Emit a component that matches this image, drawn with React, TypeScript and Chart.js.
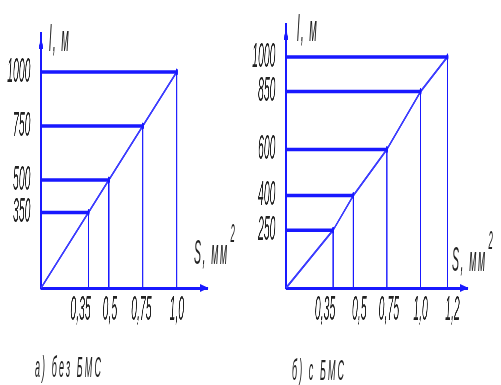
import React, { useEffect, useRef } from "react";
import { Chart, registerables } from "chart.js";

Chart.register(...registerables);

// ---- data ----
const sectionsA = [0.35, 0.5, 0.75, 1.0];
const lengthsA = [350, 500, 750, 1000];
const xLabelsA = ["0,35", "0,5", "0,75", "1,0"];

const sectionsB = [0.35, 0.5, 0.75, 1.0, 1.2];
const lengthsB = [250, 400, 600, 850, 1000];
const xLabelsB = ["0,35", "0,5", "0,75", "1,0", "1,2"];

const captionA = "а) без БМС";
const captionB = "б) с БМС";
const yTitle = "l, м";
const xTitle = "S, мм";

// ---- look ----
const S = 0.3; // horizontal squash of the whole drawing
const W = 501 / S;
const H = 385;
const BLUE = "rgb(25,25,255)";
const TEXT = "#222";
const FONT = "'Liberation Sans', 'DejaVu Sans', sans-serif";
const XH = 50;

type Cfg = {
  xs: number[];
  ys: number[];
  xLabels: string[];
  labelShift: number[];
  left: number;
  right: number;
  top: number;
  bottom: number;
  xMax: number;
  yMax: number;
};

const panelA: Cfg = {
  xs: sectionsA, ys: lengthsA, xLabels: xLabelsA,
  labelShift: [-8, 1, -1.5, 0],
  left: 41, right: 208, top: 35, bottom: 288, xMax: 1.23, yMax: 1171,
};
const panelB: Cfg = {
  xs: sectionsB, ys: lengthsB, xLabels: xLabelsB,
  labelShift: [-8, 6, 2, 0, 5],
  left: 286, right: 468, top: 26, bottom: 288, xMax: 1.353, yMax: 1134,
};

const arrowPlugin = {
  id: "arrows",
  beforeDraw(chart: any, _args: any, opts: any) {
    const sc = chart.scales.x;
    const shifts: number[] = (opts && opts.shifts) || [];
    const items = sc.getLabelItems(chart.chartArea);
    if (!sc.$shifted) {
      items.forEach((it: any, i: number) => {
        if (it.options && it.options.translation) it.options.translation[0] += (shifts[i] || 0) / S;
      });
      sc.$shifted = true;
    }
  },
  afterDraw(chart: any) {
    const { ctx, chartArea: ca } = chart;
    ctx.save();
    ctx.fillStyle = BLUE;
    // x arrow
    ctx.beginPath();
    ctx.moveTo(ca.right + 2, ca.bottom);
    ctx.lineTo(ca.right - 8 / S, ca.bottom - 4);
    ctx.lineTo(ca.right - 8 / S, ca.bottom + 4);
    ctx.closePath();
    ctx.fill();
    // y arrow
    ctx.beginPath();
    ctx.moveTo(ca.left, ca.top - 2);
    ctx.lineTo(ca.left - 2.2 / S, ca.top + 14);
    ctx.lineTo(ca.left + 2.2 / S, ca.top + 14);
    ctx.closePath();
    ctx.fill();
    ctx.restore();
  },
};

function Panel({ cfg }: { cfg: Cfg }) {
  const ref = useRef<HTMLCanvasElement | null>(null);
  useEffect(() => {
    if (!ref.current) return;
    const datasets: any[] = [];
    cfg.xs.forEach((x, i) => {
      datasets.push({
        data: [{ x: 0, y: cfg.ys[i] }, { x, y: cfg.ys[i] }],
        borderColor: BLUE, borderWidth: 3.5, pointRadius: 0,
      });
      datasets.push({
        data: [{ x, y: 0 }, { x, y: cfg.ys[i] }],
        borderColor: BLUE, borderWidth: 4, pointRadius: 0,
      });
    });
    datasets.push({
      data: [{ x: 0, y: 0 }, ...cfg.xs.map((x, i) => ({ x, y: cfg.ys[i] }))],
      borderColor: "rgb(60,60,255)",
      borderWidth: 3,
      pointRadius: [0, ...cfg.xs.map(() => 3.5)],
      pointBackgroundColor: BLUE,
      pointBorderWidth: 0,
    });
    const tickFont = { family: FONT, size: 35, style: "italic" as const, lineHeight: 1 };
    const chart = new Chart(ref.current, {
      type: "line",
      data: { datasets },
      options: {
        animation: false,
        responsive: false,
        devicePixelRatio: 1,
        layout: {
          padding: {
            left: 0,
            right: W - cfg.right / S,
            top: cfg.top,
            bottom: H - cfg.bottom - XH,
          },
        },
        plugins: {
          legend: { display: false },
          tooltip: { enabled: false },
          arrows: { shifts: cfg.labelShift },
        } as any,
        scales: {
          x: {
            type: "linear",
            min: 0,
            max: cfg.xMax,
            grid: { display: false },
            border: { display: true, color: BLUE, width: 3 },
            afterBuildTicks: (s: any) => {
              s.ticks = cfg.xs.map((v) => ({ value: v }));
            },
            afterFit: (s: any) => {
              s.height = XH;
              s.paddingLeft = 0;
              s.paddingRight = 0;
            },
            ticks: {
              autoSkip: false,
              maxRotation: 0,
              minRotation: 0,
              padding: -3,
              color: TEXT,
              font: tickFont,
              callback: (v: any) => cfg.xLabels[cfg.xs.indexOf(Number(v))] ?? "",
            },
          },
          y: {
            type: "linear",
            min: 0,
            max: cfg.yMax,
            grid: { display: false },
            border: { display: true, color: BLUE, width: 6 },
            afterBuildTicks: (s: any) => {
              s.ticks = cfg.ys.map((v) => ({ value: v }));
            },
            afterFit: (s: any) => {
              s.width = cfg.left / S;
              s.paddingTop = 0;
              s.paddingBottom = 0;
            },
            ticks: {
              autoSkip: false,
              padding: 27,
              color: TEXT,
              font: tickFont,
              callback: (v: any) => String(v),
            },
          },
        },
      },
      plugins: [arrowPlugin],
    });
    return () => chart.destroy();
  }, [cfg]);
  return (
    <canvas
      ref={ref}
      width={W}
      height={H}
      style={{ position: "absolute", left: 0, top: 0, width: W, height: H }}
    />
  );
}

const txt = (left: number, top: number, size: number, extra: any = {}) => ({
  position: "absolute" as const,
  left: left / S,
  top,
  fontFamily: FONT,
  fontStyle: "italic",
  fontSize: size,
  lineHeight: 1,
  color: TEXT,
  whiteSpace: "nowrap" as const,
  ...extra,
});

export default function App() {
  return (
    <div
      style={{
        position: "fixed",
        left: 0,
        top: 0,
        width: W,
        height: H,
        background: "#fff",
        transform: `scaleX(${S})`,
        transformOrigin: "0 0",
        overflow: "hidden",
      }}
    >
      <Panel cfg={panelA} />
      <Panel cfg={panelB} />
      <div style={txt(49, 20, 37, { letterSpacing: 4 })}>{yTitle}</div>
      <div style={txt(297, 10, 37, { letterSpacing: 4 })}>{yTitle}</div>
      <div style={txt(194, 234, 35, { letterSpacing: 5 })}>
        {xTitle}
        <span style={{ fontSize: 26, position: "relative", top: -22, marginLeft: 6 }}>2</span>
      </div>
      <div style={txt(452, 241, 35, { letterSpacing: 5 })}>
        {xTitle}
        <span style={{ fontSize: 26, position: "relative", top: -22, marginLeft: 6 }}>2</span>
      </div>
      <div style={txt(35, 352, 30, { letterSpacing: 7 })}>{captionA}</div>
      <div style={txt(292, 355, 30, { letterSpacing: 7 })}>{captionB}</div>
    </div>
  );
}
